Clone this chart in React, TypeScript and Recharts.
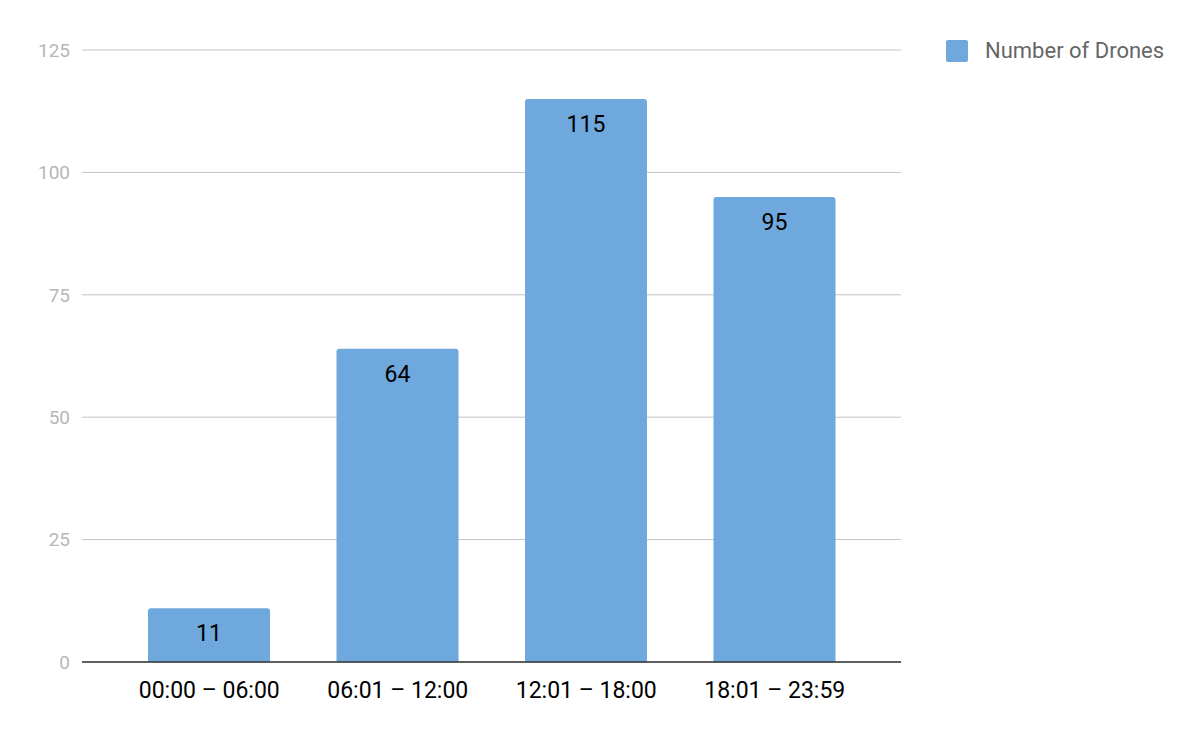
import { Bar, BarChart, CartesianGrid, LabelList, XAxis, YAxis } from "recharts";

const timeRanges = ["00:00 – 06:00", "06:01 – 12:00", "12:01 – 18:00", "18:01 – 23:59"];
const droneCounts = [11, 64, 115, 95];
const yTicks = [0, 25, 50, 75, 100, 125];

const data = timeRanges.map((range, i) => ({ range, drones: droneCounts[i] }));

const BAR_COLOR = "#6fa8dc";

function DronesLegend() {
  return (
    <div
      style={{
        position: "absolute",
        left: 946,
        top: 39,
        display: "flex",
        alignItems: "center",
        fontFamily: "Roboto",
        fontSize: 22,
        color: "#666",
        lineHeight: "24px",
      }}
    >
      <span
        style={{
          display: "inline-block",
          width: 22,
          height: 22,
          borderRadius: 2,
          background: BAR_COLOR,
          marginRight: 17,
        }}
      />
      Number of Drones
    </div>
  );
}

export default function App() {
  return (
    <div style={{ position: "absolute", left: 0, top: 0, width: 1200, height: 742, background: "#fff" }}>
      <BarChart
        width={1200}
        height={742}
        data={data}
        margin={{ top: 50, right: 299, left: 0, bottom: 50 }}
      >
        <CartesianGrid stroke="#c4c4c4" vertical={false} />
        <XAxis
          dataKey="range"
          height={30}
          padding={{ left: 33, right: 32 }}
          tickLine={false}
          tickMargin={14}
          axisLine={{ stroke: "#333", strokeWidth: 1.5 }}
          tick={{ fill: "#000", fontSize: 23, fontFamily: "Roboto" }}
        />
        <YAxis
          width={82}
          domain={[0, 125]}
          ticks={yTicks}
          axisLine={false}
          tickLine={false}
          tickMargin={6}
          tick={{ fill: "#b7b7b7", fontSize: 19, fontFamily: "Roboto" }}
        />
        <Bar dataKey="drones" fill={BAR_COLOR} barSize={122} radius={[3, 3, 0, 0]} isAnimationActive={false}>
          <LabelList
            dataKey="drones"
            position="insideTop"
            offset={17}
            fill="#000"
            fontSize={23}
            fontFamily="Roboto"
          />
        </Bar>
      </BarChart>
      <DronesLegend />
    </div>
  );
}
